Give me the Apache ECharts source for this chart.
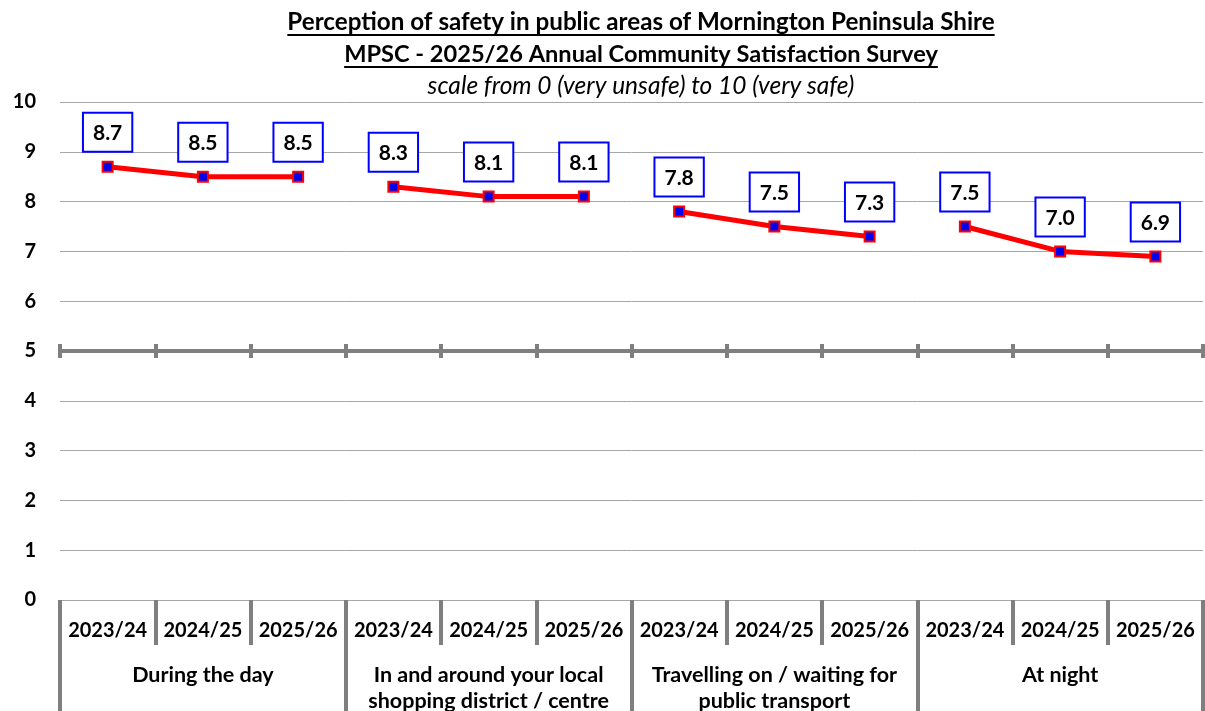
<!DOCTYPE html>
<html>
<head>
<meta charset="utf-8">
<script src="https://cdn.jsdelivr.net/npm/echarts@6/dist/echarts.min.js"></script>
<style>
  html, body { margin: 0; padding: 0; background: #fff; }
  #chart { width: 1205px; height: 711px; }
</style>
</head>
<body>
<div id="chart"></div>
<script>
// Survey periods shown under each group
const periods = ['2023/24', '2024/25', '2025/26'];
// Location / time-of-day groups
const groups = [
  'During the day',
  'In and around your local\nshopping district / centre',
  'Travelling on / waiting for\npublic transport',
  'At night'
];
// Mean safety scores (0 = very unsafe, 10 = very safe), one array per group
const dayScores = [8.7, 8.5, 8.5];
const shoppingScores = [8.3, 8.1, 8.1];
const transportScores = [7.8, 7.5, 7.3];
const nightScores = [7.5, 7.0, 6.9];
const yTicks = [0, 1, 2, 3, 4, 5, 6, 7, 8, 9, 10];

const titleLines = [
  'Perception of safety in public areas of Mornington Peninsula Shire',
  'MPSC - 2025/26 Annual Community Satisfaction Survey',
  'scale from 0 (very unsafe) to 10 (very safe)'
];

const FONT = 'Lato, "Open Sans", sans-serif';
const groupScores = [dayScores, shoppingScores, transportScores, nightScores];
const categories = [];
groups.forEach(() => periods.forEach(p => categories.push(p)));

const GRID = { left: 60, right: 2, top: 102, bottom: 111 };
const chartH = 711;
const gridH = chartH - GRID.top - GRID.bottom;
const midValue = (yTicks[0] + yTicks[yTicks.length - 1]) / 2;
const midOffset = -gridH * (midValue - yTicks[0]) / (yTicks[yTicks.length - 1] - yTicks[0]);

// One line series per group so that the line breaks between groups
const series = groupScores.map((scores, gi) => {
  const data = categories.map(() => '-');
  scores.forEach((v, i) => { data[gi * periods.length + i] = v; });
  return {
    type: 'line',
    data: data,
    connectNulls: false,
    symbol: 'rect',
    symbolSize: 10,
    lineStyle: { color: '#ff0000', width: 5 },
    itemStyle: { color: '#0000ee', borderColor: '#ff0000', borderWidth: 2 },
    label: {
      show: true,
      position: 'top',
      distance: 10,
      formatter: p => Number(p.value).toFixed(1),
      fontFamily: FONT,
      fontSize: 21,
      fontWeight: 'bold',
      color: '#000',
      backgroundColor: '#fff',
      borderColor: '#0000ff',
      borderWidth: 2,
      padding: [9, 9, 7, 9]
    },
    emphasis: { disabled: true },
    z: 5
  };
});

// Title lines (the first two are underlined)
const measure = document.createElement('canvas').getContext('2d');
const titleCenter = 641;
const titleSpecs = [
  { text: titleLines[0], y: 22, size: 24.2, weight: 'bold', style: 'normal', underline: true },
  { text: titleLines[1], y: 54, size: 23.6, weight: 'bold', style: 'normal', underline: true },
  { text: titleLines[2], y: 86, size: 24.5, weight: 'normal', style: 'italic', underline: false }
];
const graphics = [];
titleSpecs.forEach(t => {
  graphics.push({
    type: 'text',
    x: titleCenter,
    y: t.y,
    style: {
      text: t.text,
      fontFamily: FONT,
      fontSize: t.size,
      fontWeight: t.weight,
      fontStyle: t.style,
      fill: '#000',
      textAlign: 'center',
      textVerticalAlign: 'middle'
    }
  });
  if (t.underline) {
    measure.font = t.style + ' ' + t.weight + ' ' + t.size + 'px Lato';
    const w = measure.measureText(t.text).width;
    graphics.push({
      type: 'line',
      shape: { x1: titleCenter - w / 2, y1: t.y + 13, x2: titleCenter + w / 2, y2: t.y + 13 },
      style: { stroke: '#000', lineWidth: 2 }
    });
  }
});

const chart = echarts.init(document.getElementById('chart'), null, { renderer: 'canvas' });
chart.setOption({
  backgroundColor: '#fff',
  animation: false,
  grid: {
    left: GRID.left, right: GRID.right, top: GRID.top, bottom: GRID.bottom,
    containLabel: false,
    outerBoundsMode: 'none'
  },
  xAxis: [
    {
      // period labels along the zero line
      type: 'category',
      data: categories,
      position: 'bottom',
      boundaryGap: true,
      axisLine: { show: true, lineStyle: { color: '#a6a6a6', width: 1 } },
      axisTick: { show: true, interval: 0, length: 45, lineStyle: { color: '#7f7f7f', width: 4 } },
      axisLabel: { interval: 0, margin: 21, fontFamily: FONT, fontSize: 20, fontWeight: 'bold', color: '#000' },
      splitLine: { show: false }
    },
    {
      // group labels below the periods
      type: 'category',
      data: groups,
      position: 'bottom',
      boundaryGap: true,
      axisLine: { show: false },
      axisTick: { show: true, interval: 0, length: 130, lineStyle: { color: '#7f7f7f', width: 4 } },
      axisLabel: { interval: 0, margin: 62, fontFamily: FONT, fontSize: 21.5, fontWeight: 'bold', color: '#000', lineHeight: 26 },
      splitLine: { show: false }
    },
    {
      // horizontal axis crossing at the scale midpoint (ticks below)
      type: 'category',
      data: categories,
      position: 'bottom',
      offset: midOffset,
      boundaryGap: true,
      axisLine: { show: true, lineStyle: { color: '#7f7f7f', width: 4 } },
      axisTick: { show: true, interval: 0, length: 7, lineStyle: { color: '#7f7f7f', width: 4 } },
      axisLabel: { show: false },
      splitLine: { show: false }
    },
    {
      // same axis, ticks above
      type: 'category',
      data: categories,
      position: 'bottom',
      offset: midOffset,
      boundaryGap: true,
      axisLine: { show: false },
      axisTick: { show: true, inside: true, interval: 0, length: 7, lineStyle: { color: '#7f7f7f', width: 4 } },
      axisLabel: { show: false },
      splitLine: { show: false }
    }
  ],
  yAxis: {
    type: 'value',
    min: yTicks[0],
    max: yTicks[yTicks.length - 1],
    interval: 1,
    axisLine: { show: false },
    axisTick: { show: false },
    axisLabel: { margin: 24, fontFamily: FONT, fontSize: 20, fontWeight: 'bold', color: '#000' },
    splitLine: { show: true, lineStyle: { color: '#a6a6a6', width: 1 } }
  },
  series: series,
  graphic: graphics
});
</script>
</body>
</html>
